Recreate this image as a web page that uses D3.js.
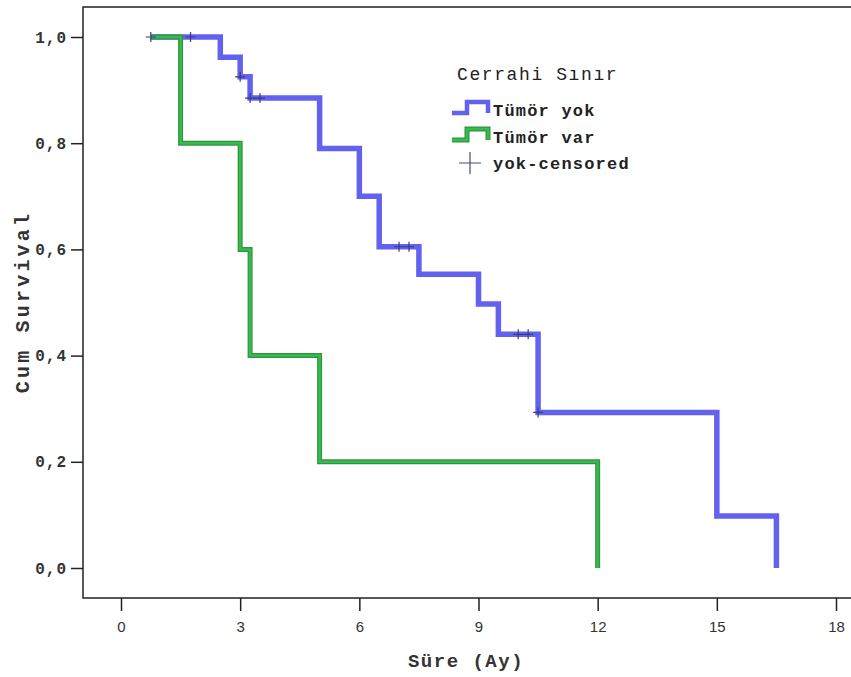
<!DOCTYPE html>
<html>
<head>
<meta charset="utf-8">
<script src="https://cdn.jsdelivr.net/npm/d3@7"></script>
<style>
  body { margin: 0; background: #fff; }
  svg { display: block; }
</style>
</head>
<body>
<svg width="851" height="677"></svg>
<script>
// Tümör yok (blue) curve
var yokTime = [0.75, 2.5, 3.0, 3.25, 5, 6, 6.5, 7.5, 9, 9.5, 10.5, 15, 16.5];
var yokSurv = [1.0, 0.962, 0.925, 0.885, 0.79, 0.70, 0.605, 0.553, 0.497, 0.44, 0.293, 0.098, 0.0];
// Tümör var (green) curve
var varTime = [0.75, 1.5, 3.0, 3.25, 5, 12];
var varSurv = [1.0, 0.8, 0.6, 0.4, 0.2, 0.0];
// censored marks
var censorTime = [0.75, 1.75, 3.0, 3.25, 3.5, 7.0, 7.25, 10.0, 10.25, 10.5];
var censorSurv = [1.0, 1.0, 0.925, 0.885, 0.885, 0.605, 0.605, 0.44, 0.44, 0.293];

var xTicks = [0, 3, 6, 9, 12, 15, 18];
var yTicks = [0, 0.2, 0.4, 0.6, 0.8, 1.0];

var svg = d3.select('svg');
var frame = { left: 83, top: 7, right: 851, bottom: 598 };

var x = d3.scaleLinear().domain([0, 18]).range([121, 836]);
var y = d3.scaleLinear().domain([0, 1]).range([568, 37]);

// frame lines (top, left, bottom)
svg.append('path')
    .attr('d', 'M' + frame.right + ',' + frame.top + 'H' + frame.left + 'V' + frame.bottom + 'H' + frame.right)
    .attr('fill', 'none')
    .attr('stroke', '#222')
    .attr('stroke-width', 1.5);

// y axis
var yAxis = svg.append('g')
    .attr('transform', 'translate(' + frame.left + ',0)')
    .call(d3.axisLeft(y).tickValues(yTicks).tickSize(12).tickPadding(4)
        .tickFormat(function(d) { return d3.format('.1f')(d).replace('.', ','); }));
yAxis.select('.domain').remove();
yAxis.selectAll('line').attr('stroke', '#222').attr('stroke-width', 1.5);
yAxis.selectAll('text')
    .attr('font-family', 'Liberation Mono')
    .attr('font-size', 16)
    .attr('font-weight', 'bold')
    .attr('letter-spacing', 1)
    .attr('fill', '#333');

// x axis
var xAxis = svg.append('g')
    .attr('transform', 'translate(0,' + frame.bottom + ')')
    .call(d3.axisBottom(x).tickValues(xTicks).tickSize(13).tickPadding(10));
xAxis.select('.domain').remove();
xAxis.selectAll('line').attr('stroke', '#222').attr('stroke-width', 1.5);
xAxis.selectAll('text')
    .attr('font-family', 'Liberation Sans')
    .attr('font-size', 15)
    .attr('fill', '#333');

// axis titles
svg.append('text')
    .attr('x', 466).attr('y', 667)
    .attr('text-anchor', 'middle')
    .attr('font-family', 'Liberation Mono')
    .attr('font-size', 19)
    .attr('font-weight', 'bold')
    .attr('letter-spacing', 1.5)
    .attr('fill', '#333')
    .text('Süre (Ay)');

svg.append('text')
    .attr('transform', 'translate(29,302) rotate(-90)')
    .attr('text-anchor', 'middle')
    .attr('font-family', 'Liberation Mono')
    .attr('font-size', 20)
    .attr('font-weight', 'bold')
    .attr('letter-spacing', 3.2)
    .attr('fill', '#333')
    .text('Cum Survival');

function stepPath(times, surv) {
    var pts = times.map(function(t, i) { return [x(t), y(surv[i])]; });
    return d3.line().curve(d3.curveStepAfter)(pts);
}

// blue curve
svg.append('path')
    .attr('d', stepPath(yokTime, yokSurv))
    .attr('fill', 'none')
    .attr('stroke', '#6262ee')
    .attr('stroke-width', 5.5);

// green curve: dark outline + lighter core
svg.append('path')
    .attr('d', stepPath(varTime, varSurv))
    .attr('fill', 'none')
    .attr('stroke', '#3a8f48')
    .attr('stroke-width', 5);
svg.append('path')
    .attr('d', stepPath(varTime, varSurv))
    .attr('fill', 'none')
    .attr('stroke', '#2fc048')
    .attr('stroke-width', 2.5);

// censor marks
var cs = 5;
svg.append('g').selectAll('path')
    .data(censorTime)
    .enter()
    .append('path')
    .attr('d', function(d, i) {
        var cx = x(d), cy = y(censorSurv[i]);
        return 'M' + (cx - cs) + ',' + cy + 'H' + (cx + cs) + 'M' + cx + ',' + (cy - cs) + 'V' + (cy + cs);
    })
    .attr('stroke', '#3a3a80')
    .attr('stroke-width', 1.2);

// legend
var lg = svg.append('g');
lg.append('text')
    .attr('x', 457).attr('y', 80)
    .attr('font-family', 'Liberation Mono')
    .attr('font-size', 18)
    .attr('letter-spacing', 1.6)
    .attr('fill', '#222')
    .text('Cerrahi Sınır');

var legendItems = ['Tümör yok', 'Tümör var'];
var legendCol = ['#6262ee', '#2fc048'];
legendItems.forEach(function(name, i) {
    var ly = 113 + i * 27;
    if (i === 1) {
        lg.append('path')
            .attr('d', 'M452,' + ly + 'H467V' + (ly - 11) + 'H488V' + ly)
            .attr('fill', 'none').attr('stroke', '#3a8f48').attr('stroke-width', 5);
    }
    lg.append('path')
        .attr('d', 'M452,' + ly + 'H467V' + (ly - 11) + 'H488V' + ly)
        .attr('fill', 'none')
        .attr('stroke', legendCol[i])
        .attr('stroke-width', i === 1 ? 2.5 : 4.5);
    lg.append('text')
        .attr('x', 493).attr('y', ly + 3)
        .attr('font-family', 'Liberation Mono')
        .attr('font-size', 17)
        .attr('font-weight', 'bold')
        .attr('letter-spacing', 1.2)
        .attr('fill', '#222')
        .text(name);
});

lg.append('path')
    .attr('d', 'M459,163H481M470,152V174')
    .attr('stroke', '#4a4a7a')
    .attr('stroke-width', 1.2);
lg.append('text')
    .attr('x', 493).attr('y', 169)
    .attr('font-family', 'Liberation Mono')
    .attr('font-size', 17)
    .attr('font-weight', 'bold')
    .attr('letter-spacing', 1.2)
    .attr('fill', '#222')
    .text('yok-censored');
</script>
</body>
</html>
